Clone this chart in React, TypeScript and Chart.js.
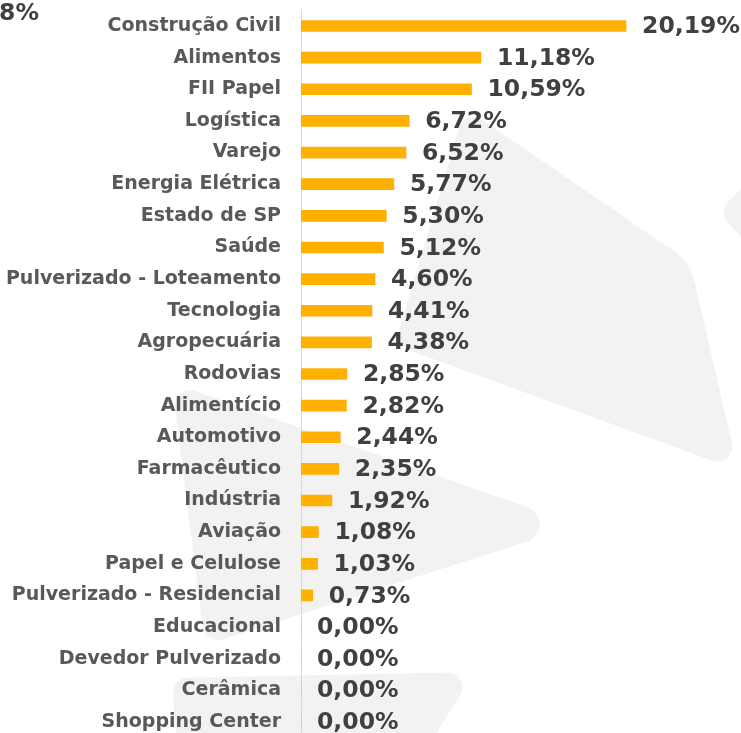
import React, { useEffect, useRef } from "react";
import { Chart, registerables } from "chart.js";
Chart.register(...registerables);

const categories = [
  "Construção Civil",
  "Alimentos",
  "FII Papel",
  "Logística",
  "Varejo",
  "Energia Elétrica",
  "Estado de SP",
  "Saúde",
  "Pulverizado - Loteamento",
  "Tecnologia",
  "Agropecuária",
  "Rodovias",
  "Alimentício",
  "Automotivo",
  "Farmacêutico",
  "Indústria",
  "Aviação",
  "Papel e Celulose",
  "Pulverizado - Residencial",
  "Educacional",
  "Devedor Pulverizado",
  "Cerâmica",
  "Shopping Center",
];

const shares = [
  20.19, 11.18, 10.59, 6.72, 6.52, 5.77, 5.3, 5.12, 4.6, 4.41, 4.38, 2.85, 2.82,
  2.44, 2.35, 1.92, 1.08, 1.03, 0.73, 0, 0, 0, 0,
];

const clippedLabel = "11,18%";

const LABEL_FONT = '"DejaVu Sans", sans-serif';
const VALUE_FONT = '"DejaVu Sans", sans-serif';
const BAR = "#FFB000";
const LABEL = "#595959";
const VALUE = "#404040";
const WATERMARK = "#f2f2f2";

const fmt = (v: number) => v.toFixed(2).replace(".", ",") + "%";

type P = [number, number];
const shapes: { pts: P[]; r: number[] }[] = [
  { pts: [[465, 108], [690, 262], [738, 470], [395, 345]], r: [15, 50, 15, 20] },
  { pts: [[172, 383], [578, 525], [205, 645]], r: [15, 18, 15] },
  { pts: [[172, 678], [475, 672], [400, 790], [180, 790]], r: [15, 15, 5, 5] },
  { pts: [[718, 212], [800, 130], [800, 300]], r: [15, 5, 5] },
];

function roundedPoly(ctx: CanvasRenderingContext2D, pts: P[], r: number[]) {
  const n = pts.length;
  const mid = (a: P, b: P): P => [(a[0] + b[0]) / 2, (a[1] + b[1]) / 2];
  const start = mid(pts[n - 1], pts[0]);
  ctx.beginPath();
  ctx.moveTo(start[0], start[1]);
  for (let i = 0; i < n; i++) {
    const p = pts[i];
    const nx = pts[(i + 1) % n];
    const m = mid(p, nx);
    ctx.arcTo(p[0], p[1], m[0], m[1], r[i]);
  }
  ctx.closePath();
  ctx.fill();
}

const watermarkPlugin = {
  id: "watermark",
  beforeDraw(chart: any) {
    const ctx = chart.ctx as CanvasRenderingContext2D;
    ctx.save();
    ctx.fillStyle = WATERMARK;
    shapes.forEach((s) => roundedPoly(ctx, s.pts, s.r));
    ctx.restore();
  },
};

const valueLabelPlugin = {
  id: "valueLabels",
  afterDatasetsDraw(chart: any) {
    const ctx = chart.ctx as CanvasRenderingContext2D;
    const meta = chart.getDatasetMeta(0);
    ctx.save();
    ctx.font = `bold 23.5px ${VALUE_FONT}`;
    ctx.fillStyle = VALUE;
    ctx.textAlign = "left";
    ctx.textBaseline = "middle";
    meta.data.forEach((bar: any, i: number) => {
      ctx.fillText(fmt(shares[i]), bar.x + 16, bar.y + 1);
    });
    ctx.textAlign = "right";
    ctx.fillText(clippedLabel, 39, 14);
    ctx.restore();
  },
};

export default function App() {
  const ref = useRef<HTMLCanvasElement | null>(null);
  useEffect(() => {
    if (!ref.current) return;
    const chart = new Chart(ref.current, {
      type: "bar",
      data: {
        labels: categories,
        datasets: [
          {
            data: shares,
            backgroundColor: BAR,
            borderWidth: 0,
            barThickness: 11,
          },
        ],
      },
      options: {
        indexAxis: "y",
        animation: false,
        responsive: false,
        maintainAspectRatio: false,
        layout: { padding: { top: 10.2, bottom: 2.2, left: 0, right: 37.5 } },
        plugins: { legend: { display: false }, tooltip: { enabled: false } },
        scales: {
          x: { display: false, min: 0, max: 25 },
          y: {
            afterFit: (s: any) => {
              s.width = 301;
              s.paddingTop = 0;
              s.paddingBottom = 0;
            },
            grid: { display: false, drawTicks: false },
            border: { display: true, color: "#d9d9d9", width: 1 },
            ticks: {
              padding: 20,
              color: LABEL,
              font: { family: LABEL_FONT, size: 19, weight: "bold" },
            },
          },
        },
      },
      plugins: [watermarkPlugin, valueLabelPlugin],
    });
    return () => chart.destroy();
  }, []);
  return (
    <div
      style={{
        position: "fixed",
        left: 0,
        top: 0,
        width: 741,
        height: 733,
        overflow: "hidden",
        background: "#fff",
      }}
    >
      <canvas ref={ref} width={741} height={740} style={{ display: "block" }} />
    </div>
  );
}
